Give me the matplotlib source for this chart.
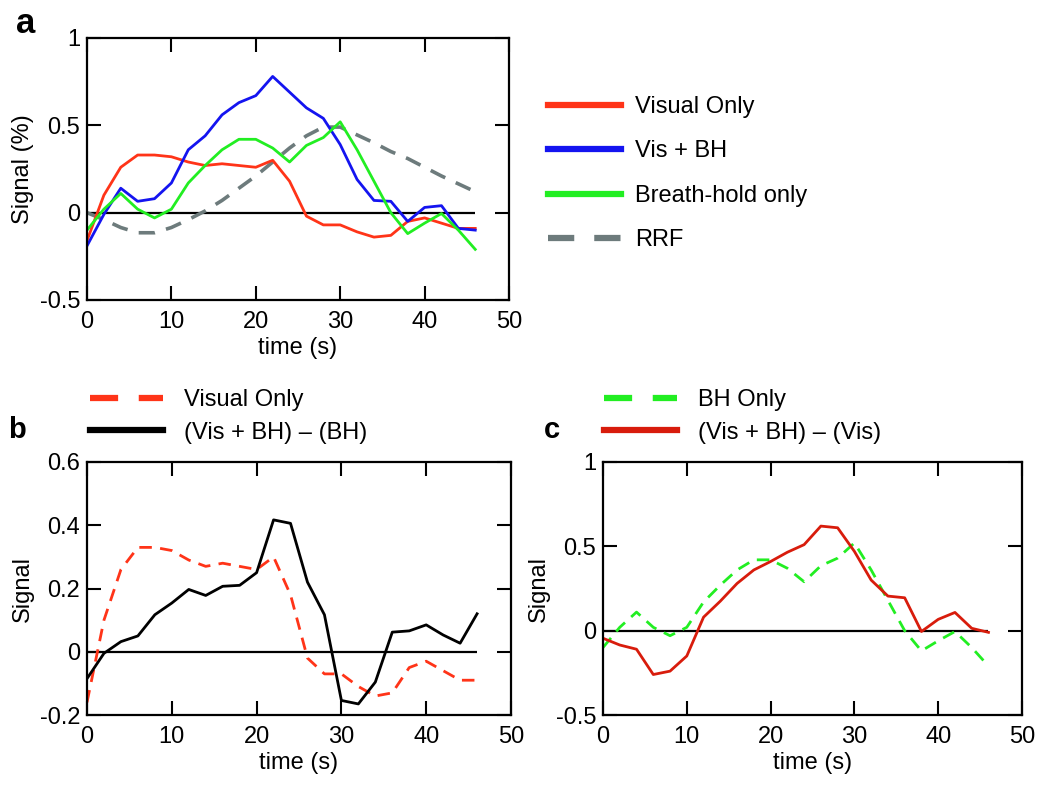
import matplotlib
matplotlib.use("Agg")
import matplotlib.pyplot as plt
from matplotlib.lines import Line2D
import numpy as np

plt.rcParams['font.family'] = ['Liberation Sans', 'DejaVu Sans']
plt.rcParams['axes.unicode_minus'] = False

# ---------------- data ----------------
time_s = [0, 2, 4, 6, 8, 10, 12, 14, 16, 18, 20, 22, 24, 26, 28, 30, 32, 34, 36, 38, 40, 42, 44, 46]

visual_only = [-0.16, 0.10, 0.26, 0.33, 0.33, 0.32, 0.29, 0.27, 0.28, 0.27, 0.26, 0.30, 0.18, -0.02,
               -0.07, -0.07, -0.11, -0.14, -0.13, -0.05, -0.03, -0.06, -0.09, -0.09]
vis_bh = [-0.19, -0.01, 0.14, 0.065, 0.08, 0.17, 0.36, 0.44, 0.56, 0.63, 0.67, 0.78, 0.69, 0.60,
          0.54, 0.39, 0.19, 0.07, 0.065, -0.05, 0.03, 0.04, -0.09, -0.10]
bh_only = [-0.10, 0.02, 0.11, 0.02, -0.03, 0.02, 0.17, 0.27, 0.36, 0.42, 0.42, 0.37, 0.29, 0.385,
           0.43, 0.52, 0.36, 0.18, 0.0, -0.12, -0.06, -0.005, -0.10, -0.21]
rrf = [0.0, -0.04, -0.085, -0.115, -0.115, -0.085, -0.04, 0.01, 0.07, 0.14, 0.21, 0.29, 0.37, 0.44,
       0.49, 0.49, 0.445, 0.40, 0.35, 0.31, 0.26, 0.21, 0.165, 0.12]
visbh_minus_bh = [-0.085, -0.005, 0.032, 0.05, 0.117, 0.154, 0.197, 0.178, 0.207, 0.21, 0.25, 0.417,
                  0.406, 0.22, 0.117, -0.154, -0.165, -0.096, 0.062, 0.066, 0.085, 0.053, 0.027, 0.12]
visbh_minus_vis = [-0.045, -0.085, -0.11, -0.26, -0.24, -0.15, 0.08, 0.175, 0.28, 0.36, 0.41, 0.465,
                   0.51, 0.62, 0.61, 0.47, 0.30, 0.205, 0.195, -0.005, 0.067, 0.108, 0.014, -0.01]

labels_a = ["Visual Only", "Vis + BH", "Breath-hold only", "RRF"]
labels_b = ["Visual Only", "(Vis + BH) \u2013 (BH)"]
labels_c = ["BH Only", "(Vis + BH) \u2013 (Vis)"]

xticks = [0, 10, 20, 30, 40, 50]
yticks_a = [-0.5, 0, 0.5, 1]
yticklabels_a = ["-0.5", "0", "0.5", "1"]
yticks_b = [-0.2, 0, 0.2, 0.4, 0.6]
yticklabels_b = ["-0.2", "0", "0.2", "0.4", "0.6"]
yticks_c = [-0.5, 0, 0.5, 1]
yticklabels_c = ["-0.5", "0", "0.5", "1"]

# ---------------- style ----------------
C_RED = "#ff3418"
C_BLUE = "#1414f0"
C_GREEN = "#22ee22"
C_GRAY = "#6d7b7c"
C_DRED = "#d81c0c"
FS = 17
LW = 2.0

fig = plt.figure(figsize=(10.5, 7.85), dpi=100)
W, H = 1050, 785

def add_ax(l, r, t, b):
    return fig.add_axes([l / W, 1 - b / H, (r - l) / W, (b - t) / H])

def style(ax, yt, ytl, ylim):
    ax.set_xlim(0, 50)
    ax.set_ylim(*ylim)
    ax.set_xticks(xticks)
    ax.set_xticklabels([str(x) for x in xticks])
    ax.set_yticks(yt)
    ax.set_yticklabels(ytl)
    ax.tick_params(direction='in', length=10, width=1.5, top=True, right=True,
                   labelsize=FS, pad=5)
    ax.tick_params(axis='x', pad=8)
    for s in ax.spines.values():
        s.set_linewidth(1.6)
    ax.set_xlabel("time (s)", fontsize=FS, labelpad=3)

# ---------------- panel a ----------------
axa = add_ax(87, 509, 38, 300)
axa.hlines(0, time_s[0], time_s[-1], color='black', lw=1.6)
axa.plot(time_s, rrf, color=C_GRAY, lw=2.6, dashes=(4.5, 3.2))
axa.plot(time_s, visual_only, color=C_RED, lw=LW)
axa.plot(time_s, vis_bh, color=C_BLUE, lw=LW)
axa.plot(time_s, bh_only, color=C_GREEN, lw=LW)
style(axa, yticks_a, yticklabels_a, (-0.5, 1))
axa.set_ylabel("Signal (%)", fontsize=FS, labelpad=4)

ha = [Line2D([], [], color=C_RED, lw=4.5),
      Line2D([], [], color=C_BLUE, lw=4.5),
      Line2D([], [], color=C_GREEN, lw=4.5),
      Line2D([], [], color=C_GRAY, lw=4.5, dashes=(4.2, 3.2))]
fig.legend(ha, labels_a, loc='upper left', bbox_to_anchor=(548 / W, 1 - 96 / H),
           frameon=False, fontsize=FS, handlelength=3.1, handletextpad=0.6,
           labelspacing=0.95, borderpad=0, borderaxespad=0)

# ---------------- panel b ----------------
axb = add_ax(87, 511, 462, 715)
axb.hlines(0, time_s[0], time_s[-1], color='black', lw=1.6)
axb.plot(time_s, visual_only, color=C_RED, lw=LW, dashes=(4.5, 3.0))
axb.plot(time_s, visbh_minus_bh, color='black', lw=LW)
style(axb, yticks_b, yticklabels_b, (-0.2, 0.6))
axb.set_ylabel("Signal", fontsize=FS, labelpad=4)

hb = [Line2D([], [], color=C_RED, lw=4.5, dashes=(4.5, 3.3)),
      Line2D([], [], color='black', lw=4.5)]
fig.legend(hb, labels_b, loc='upper left', bbox_to_anchor=(90 / W, 1 - 389 / H),
           frameon=False, fontsize=FS, handlelength=3.1, handletextpad=0.9,
           labelspacing=0.45, borderpad=0, borderaxespad=0)

# ---------------- panel c ----------------
axc = add_ax(603, 1022, 462, 715)
axc.hlines(0, time_s[0], time_s[-1], color='black', lw=1.6)
axc.plot(time_s, bh_only, color=C_GREEN, lw=LW, dashes=(4.5, 3.0))
axc.plot(time_s, visbh_minus_vis, color=C_DRED, lw=LW)
style(axc, yticks_c, yticklabels_c, (-0.5, 1))
axc.set_ylabel("Signal", fontsize=FS, labelpad=4)

hc = [Line2D([], [], color=C_GREEN, lw=4.5, dashes=(4.5, 3.3)),
      Line2D([], [], color=C_DRED, lw=4.5)]
fig.legend(hc, labels_c, loc='upper left', bbox_to_anchor=(604 / W, 1 - 389 / H),
           frameon=False, fontsize=FS, handlelength=3.1, handletextpad=0.9,
           labelspacing=0.45, borderpad=0, borderaxespad=0)

# ---------------- panel letters ----------------
fig.text(16 / W, 1 - 33 / H, "a", fontsize=25, fontweight='bold', va='baseline')
fig.text(8 / W, 1 - 438 / H, "b", fontsize=21, fontweight='bold', va='baseline')
fig.text(544 / W, 1 - 438 / H, "c", fontsize=21, fontweight='bold', va='baseline')

fig.savefig("out.png", dpi=100)
